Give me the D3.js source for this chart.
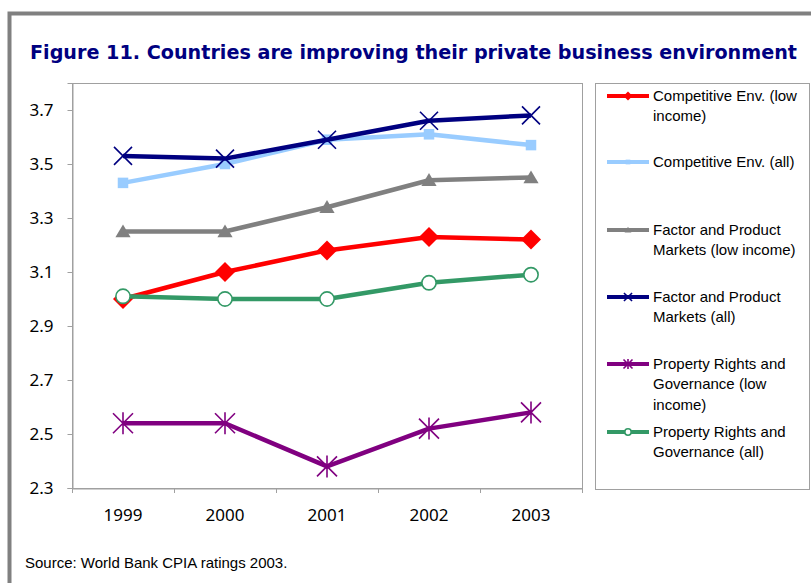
<!DOCTYPE html>
<html><head><meta charset="utf-8">
<script src="https://cdn.jsdelivr.net/npm/d3@7"></script>
<style>body{margin:0;background:#fff;}svg{display:block;}</style>
</head><body>
<svg id="chart" width="811" height="583"></svg>
<script>
const years = ["1999","2000","2001","2002","2003"];
const yTicks = [2.3,2.5,2.7,2.9,3.1,3.3,3.5,3.7];
const seriesNames = [
  ["Competitive Env. (low","income)"],
  ["Competitive Env. (all)"],
  ["Factor and Product","Markets (low income)"],
  ["Factor and Product","Markets (all)"],
  ["Property Rights and","Governance (low","income)"],
  ["Property Rights and","Governance (all)"]
];
const compLow = [3.00,3.10,3.18,3.23,3.22];
const compAll = [3.43,3.50,3.59,3.61,3.57];
const factLow = [3.25,3.25,3.34,3.44,3.45];
const factAll = [3.53,3.52,3.59,3.66,3.68];
const propLow = [2.54,2.54,2.38,2.52,2.58];
const propAll = [3.01,3.00,3.00,3.06,3.09];
const seriesColors = ["#ff0000","#99ccff","#808080","#000080","#800080","#339966"];
const markers = ["diamond","square","triangle","x","star","circle"];
const title = "Figure 11. Countries are improving their private business environment";
const source = "Source: World Bank CPIA ratings 2003.";

const series = [compLow,compAll,factLow,factAll,propLow,propAll].map((v,i)=>({
  name: seriesNames[i], values: v, color: seriesColors[i], marker: markers[i]}));

const svg = d3.select("#chart");
// outer frame
svg.append("path").attr("d","M9.5,583 V13.5 H811").attr("fill","none")
  .attr("stroke","#808080").attr("stroke-width",4);

svg.append("text").attr("x",30).attr("y",59).attr("font-family","'DejaVu Sans Condensed','DejaVu Sans',sans-serif")
  .attr("font-weight","bold").attr("font-size",20).attr("fill","#000080")
  .attr("textLength",767).attr("lengthAdjust","spacingAndGlyphs").text(title);

const L=72,R=582,T=83,B=488;
const x = d3.scaleBand().domain(years).range([L,R]);
const y = d3.scaleLinear().domain([2.3,3.8]).range([B,T]);

svg.append("rect").attr("x",L+0.5).attr("y",T+0.5).attr("width",R-L).attr("height",B-T)
  .attr("fill","#fff").attr("stroke","#a0a0a0").attr("stroke-width",1);

const yAxis = svg.append("g").attr("transform",`translate(${L+0.5},0)`)
  .call(d3.axisLeft(y).tickValues(yTicks).tickFormat(d3.format(".1f")).tickSize(5).tickPadding(14));
const xAxis = svg.append("g").attr("transform",`translate(0,${B+0.5})`)
  .call(d3.axisBottom(x).tickSize(0).tickPadding(20));
// category boundary ticks
svg.append("g").selectAll("line").data(years.concat(["end"])).join("line")
  .attr("x1",(d,i)=> i<years.length ? Math.round(x(d))+0.5 : R+0.5)
  .attr("x2",(d,i)=> i<years.length ? Math.round(x(d))+0.5 : R+0.5)
  .attr("y1",B).attr("y2",B+5).attr("stroke","#a0a0a0");
[yAxis,xAxis].forEach(g=>{
  g.selectAll(".domain").attr("stroke","#a0a0a0");
  g.selectAll(".tick line").attr("stroke","#a0a0a0");
  g.selectAll("text").attr("font-family","'Noto Sans',sans-serif").attr("font-size",17).attr("fill","#000");
});

function drawMarker(g, type, color, size){
  const s=size;
  if(type==="diamond"){
    g.append("path").attr("d",`M0,${-s}L${s},0L0,${s}L${-s},0Z`).attr("fill",color);
  } else if(type==="square"){
    g.append("rect").attr("x",-s*0.7).attr("y",-s*0.7).attr("width",s*1.4).attr("height",s*1.4).attr("fill",color);
  } else if(type==="triangle"){
    g.append("path").attr("d",`M0,${-s*0.75}L${s*0.8},${s*0.6}L${-s*0.8},${s*0.6}Z`).attr("fill",color);
  } else if(type==="x"){
    g.append("path").attr("d",`M${-s},${-s}L${s},${s}M${-s},${s}L${s},${-s}`).attr("stroke",color).attr("stroke-width",1.6);
  } else if(type==="star"){
    g.append("path").attr("d",`M${-s},${-s}L${s},${s}M${-s},${s}L${s},${-s}M0,${-s*1.1}L0,${s*1.1}`).attr("stroke",color).attr("stroke-width",1.6);
  } else if(type==="circle"){
    g.append("circle").attr("r",s*0.75).attr("fill","#fff").attr("stroke",color).attr("stroke-width",1.6);
  }
}
const msize = {diamond:10,square:7.5,triangle:9.5,x:9,star:10,circle:9.5};

const line = d3.line().x((d,i)=>x(years[i])+x.bandwidth()/2).y(d=>y(d));
series.forEach(s=>{
  const g = svg.append("g");
  g.append("path").attr("d",line(s.values)).attr("fill","none").attr("stroke",s.color)
    .attr("stroke-width",4.5).attr("stroke-linejoin","round");
  s.values.forEach((v,i)=>{
    const mg = g.append("g").attr("transform",`translate(${x(years[i])+x.bandwidth()/2},${y(v)})`);
    drawMarker(mg,s.marker,s.color,msize[s.marker]);
  });
});

// legend
svg.append("rect").attr("x",595.5).attr("y",83.5).attr("width",214).attr("height",406)
  .attr("fill","#fff").attr("stroke","#a0a0a0");
const legendY = [96,162,230,297,364,432];
series.forEach((s,i)=>{
  const g = svg.append("g").attr("transform",`translate(0,${legendY[i]})`);
  g.append("line").attr("x1",607).attr("x2",649).attr("y1",0).attr("y2",0).attr("stroke",s.color).attr("stroke-width",4);
  const mg = g.append("g").attr("transform","translate(628,0)");
  drawMarker(mg,s.marker,s.color,msize[s.marker]*0.45);
  s.name.forEach((t,j)=>{
    g.append("text").attr("x",653).attr("y",j*20.2).attr("dy","0.35em")
      .attr("font-family","'Liberation Sans',Arial,sans-serif").attr("font-size",15).attr("fill","#000").text(t);
  });
});

svg.append("text").attr("x",25).attr("y",568).attr("font-family","'Liberation Sans',Arial,sans-serif")
  .attr("font-size",15).attr("fill","#000").text(source);
</script>
</body></html>
